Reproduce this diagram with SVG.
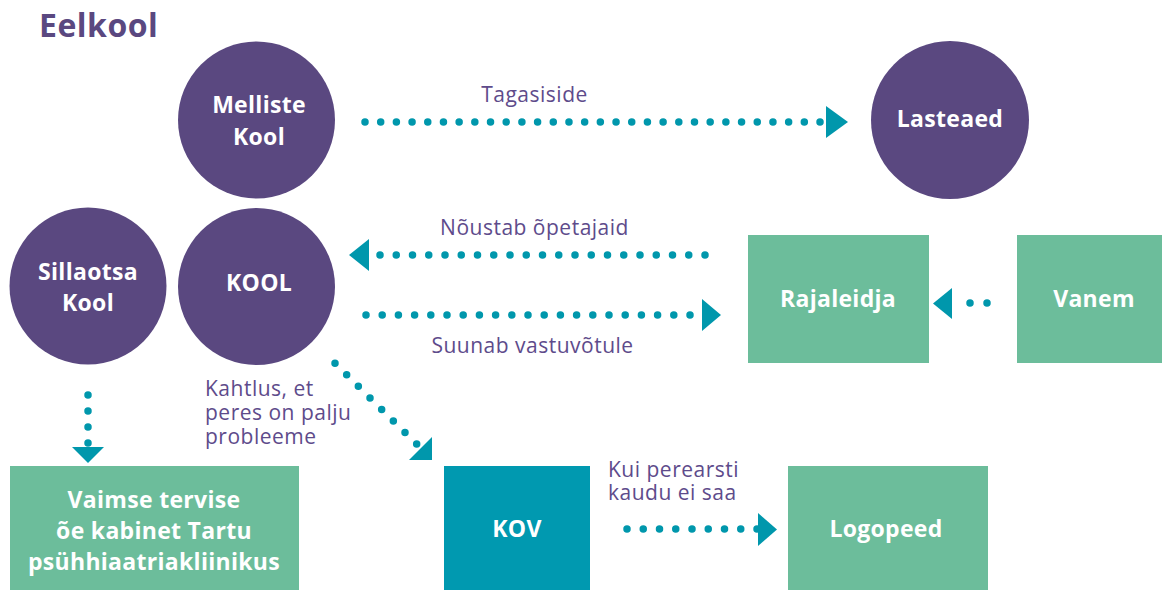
<svg xmlns="http://www.w3.org/2000/svg" width="1162" height="590" viewBox="0 0 1162 590">
<style>
.circ{fill:#5a4880}
.grn{fill:#6cbd9b}
.teal{fill:#0099b0}
.nt{font-family:"Open Sans","Liberation Sans",sans-serif;font-weight:bold;font-size:23px;fill:#ffffff;text-anchor:middle;letter-spacing:0.3px}
.lbl{font-family:"Open Sans","Liberation Sans",sans-serif;font-size:21px;fill:#5e4b8b;letter-spacing:0.5px}
.title{font-family:"Open Sans","Liberation Sans",sans-serif;font-weight:bold;font-size:32px;fill:#5a4880;letter-spacing:0.5px}
.dots{fill:none;stroke:#0097ac;stroke-width:7.5;stroke-linecap:round}
.head{fill:#0097ac}
</style>
<rect width="1162" height="590" fill="#ffffff"/>
<text class="title" x="39" y="37">Eelkool</text>

<g id="melliste">
<circle class="circ" cx="256.5" cy="120" r="78.5"/>
<text class="nt" x="259" y="113">Melliste</text>
<text class="nt" x="259" y="145">Kool</text>
</g>
<g id="lasteaed">
<circle class="circ" cx="950" cy="120" r="79"/>
<text class="nt" x="950" y="127">Lasteaed</text>
</g>
<g id="sillaotsa">
<circle class="circ" cx="88" cy="286" r="78.5"/>
<text class="nt" x="88" y="280">Sillaotsa</text>
<text class="nt" x="88" y="311">Kool</text>
</g>
<g id="kool">
<circle class="circ" cx="256.5" cy="286.5" r="78.5"/>
<text class="nt" x="259" y="291">KOOL</text>
</g>
<g id="rajaleidja">
<rect class="grn" x="748" y="235" width="181" height="128"/>
<text class="nt" x="838" y="307">Rajaleidja</text>
</g>
<g id="vanem">
<rect class="grn" x="1017" y="235" width="145" height="128"/>
<text class="nt" x="1094" y="307">Vanem</text>
</g>
<g id="vaimse">
<rect class="grn" x="10" y="466" width="289" height="124"/>
<text class="nt" x="154" y="508">Vaimse tervise</text>
<text class="nt" x="154" y="539">õe kabinet Tartu</text>
<text class="nt" x="154" y="570">psühhiaatriakliinikus</text>
</g>
<g id="kov">
<rect class="teal" x="444" y="466" width="146" height="124"/>
<text class="nt" x="517" y="537">KOV</text>
</g>
<g id="logopeed">
<rect class="grn" x="788" y="466" width="200" height="124"/>
<text class="nt" x="886" y="537">Logopeed</text>
</g>

<g id="connectors">
<!-- Melliste -> Lasteaed -->
<path class="dots" d="M365 122 H821" stroke-dasharray="0 15.69"/>
<polygon class="head" points="826,106 848,122 826,138"/>
<text class="lbl" x="534.5" y="102" text-anchor="middle">Tagasiside</text>
<!-- Rajaleidja -> KOOL -->
<path class="dots" d="M705 255 H379" stroke-dasharray="0 16.25"/>
<polygon class="head" points="369,239 349,255 369,271"/>
<text class="lbl" x="534.5" y="235" text-anchor="middle">Nõustab õpetajaid</text>
<!-- KOOL -> Rajaleidja -->
<path class="dots" d="M366 315 H691" stroke-dasharray="0 16.2"/>
<polygon class="head" points="702,299 721,315 702,331"/>
<text class="lbl" x="532.5" y="353" text-anchor="middle">Suunab vastuvõtule</text>
<!-- Vanem -> Rajaleidja -->
<path class="dots" d="M987 303 H969" stroke-dasharray="0 17"/>
<polygon class="head" points="952,288 933,303.5 952,319"/>
<!-- Sillaotsa -> Vaimse -->
<path class="dots" d="M88 395 V444" stroke-dasharray="0 16"/>
<polygon class="head" points="72,447 104,447 88,463"/>
<!-- KOOL -> KOV -->
<path class="dots" d="M335 363.3 L417.4 444.7" stroke-dasharray="0 16.4"/>
<polygon class="head" points="432,437 432,460 409,460"/>
<text class="lbl" x="205" y="396">Kahtlus, et</text>
<text class="lbl" x="205" y="420">peres on palju</text>
<text class="lbl" x="205" y="444">probleeme</text>
<!-- KOV -> Logopeed -->
<path class="dots" d="M627 529 H758" stroke-dasharray="0 16.25"/>
<polygon class="head" points="758,513 777,529.5 758,546"/>
<text class="lbl" x="608" y="477">Kui perearsti</text>
<text class="lbl" x="608" y="500">kaudu ei saa</text>
</g>
</svg>
